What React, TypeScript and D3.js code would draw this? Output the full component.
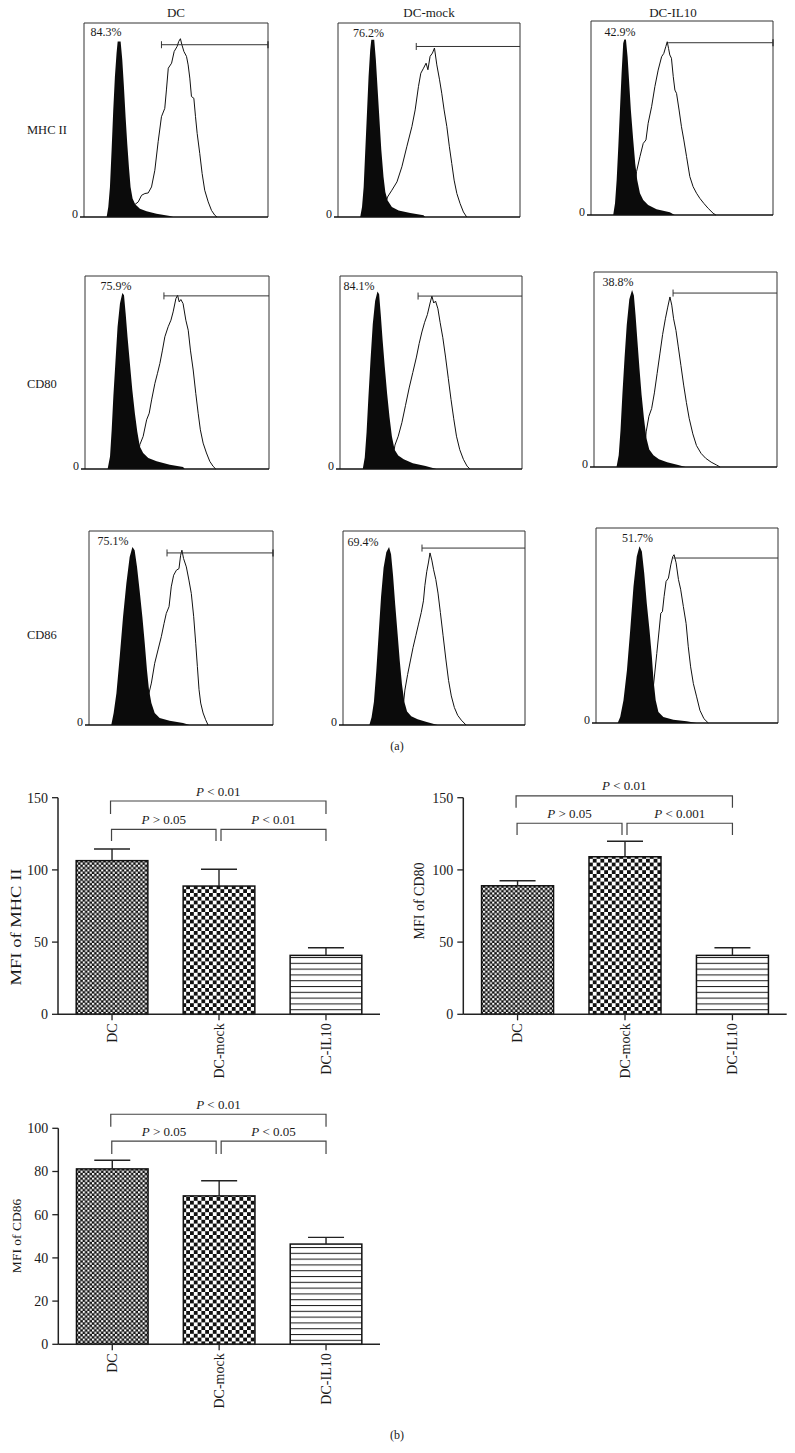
import React from "react";
import * as d3 from "d3";

type Pt = [number, number];

// ---------- (a) flow cytometry histograms ----------
const columnTitles = ["DC", "DC-mock", "DC-IL10"];
const rowMarkers = ["MHC II", "CD80", "CD86"];
const gatePercents = [
  ["84.3%", "76.2%", "42.9%"],
  ["75.9%", "84.1%", "38.8%"],
  ["75.1%", "69.4%", "51.7%"],
];
// channel (0-100 across the plot) , count (0-100 of plot height)
const mhcDcFilled: Pt[] = [[12.3,0],[13.2,5.2],[14.1,15.5],[15,34.5],[15.9,55.2],[16.8,72.4],[17.7,84.5],[18.3,90.5],[19.9,90.5],[20.8,81],[21.7,67.2],[22.6,51.7],[23.5,37.9],[24.4,25.9],[25.3,15.5],[26.4,9.5],[27.8,6.6],[30.4,4.3],[34,2.9],[39.4,1.7],[46.7,0.5],[48.5,0]];
const mhcDcOpen: Pt[] = [[23.1,0],[27.1,6],[29.5,7.8],[31.3,11.2],[33.1,12.1],[34.9,12.4],[36.7,15.5],[38.5,24.1],[40.3,38.8],[42.1,51.7],[43.9,56],[44.8,65.5],[45.8,76.7],[47.6,79.3],[49,85.3],[50.6,87.9],[51.5,90.5],[52.4,91.9],[53.2,88.8],[54.3,85.3],[55.7,82.8],[56.6,78.4],[57.5,71.6],[58.4,62.1],[59.7,61.2],[60.6,51.7],[61.5,43.1],[62.9,32.8],[64.2,22.4],[65.6,13.8],[67.5,7.8],[69.3,3.4],[71.1,0.9],[72.3,0]];
const mhcMockFilled: Pt[] = [[12.2,0],[13.2,5.2],[14.1,15.5],[15,34.5],[15.9,53.4],[16.8,72.4],[17.7,86.2],[18.3,91.4],[19.9,91.4],[20.8,81],[21.8,65.5],[22.9,48.3],[23.8,34.5],[25,20.7],[26,12.9],[27.2,8.6],[29.6,5.2],[33.3,3.4],[39.7,2.1],[47,0.9],[47.9,0]];
const mhcMockOpen: Pt[] = [[24.1,0],[27.2,10.3],[29.6,13.8],[32.4,18.1],[35.1,25.9],[37.8,36.2],[40.6,46.6],[42.4,55.2],[44.2,67.2],[45.5,74.1],[47,76.7],[48.4,79.3],[49.4,75.9],[50.6,82.8],[51.9,84.5],[53,87.1],[54.3,78.4],[55.8,70.7],[57,63.8],[58.3,55.2],[59.8,46.6],[61.2,36.2],[62.5,27.6],[63.8,19],[65.3,12.1],[67.1,6.9],[68.9,2.6],[70.7,0]];
const mhcIl10Filled: Pt[] = [[12.2,0],[13.2,6],[14.1,18],[15,35.2],[15.9,54.1],[16.8,73],[17.7,88.5],[18.3,90.5],[19.2,90.5],[20.1,81.6],[21,67.9],[21.9,54.1],[23.2,38.7],[24.3,26.6],[25.4,18],[26.9,11.2],[28.7,7.7],[31.4,5.2],[36,2.9],[43.3,1.4],[46,0]];
const mhcIl10Open: Pt[] = [[22.3,0],[25,22.3],[26.9,30.1],[28.7,36.9],[30.2,38.7],[31.4,47.3],[33.3,55.8],[35.1,66.2],[36.9,74.7],[38.8,81.6],[40,83.3],[41.1,86.8],[41.9,89.3],[42.6,85.9],[43.3,82.5],[44.2,80.8],[45.2,71.3],[46.1,64.4],[47,62.7],[48.4,54.1],[49.7,45.5],[51,38.7],[52.5,30.1],[54.3,19.8],[56.1,14.6],[58,11.2],[59.8,8.6],[62,6],[64.4,3.4],[67.1,0.9],[68.6,0]];
const cd80DcFilled: Pt[] = [[12.3,0],[13.6,6.5],[14.5,20.3],[15.4,37.5],[16.6,56.5],[17.7,73.7],[19,85.7],[20.3,91.2],[21.2,90],[22.1,80.6],[23.1,68.5],[24.4,54.7],[25.7,41],[27.1,28.9],[28.4,19.4],[29.8,11.7],[31.6,8.3],[34.4,5.7],[38.9,4],[46.1,2.2],[53.3,1],[54.2,0]];
const cd80DcOpen: Pt[] = [[28,0],[29.8,12.6],[31.6,16.9],[33.5,25.5],[34.9,28.9],[36.2,35.8],[38,44.4],[39.4,49.6],[40.7,54.7],[42.1,61.6],[43.4,68.5],[45.2,73.7],[46.7,77.1],[47.9,81.4],[49.4,88.3],[50.3,90],[51.2,86.6],[52.1,87.8],[53.3,85.7],[54.8,77.1],[56.1,71.9],[57.3,61.6],[58.8,51.3],[60.2,39.2],[61.5,28.9],[62.7,20.3],[64.2,13.4],[66,8.3],[67.8,4],[69.6,1.4],[71.1,0]];
const cd80MockFilled: Pt[] = [[12.5,0],[13.6,6],[14.6,19],[15.6,37],[16.8,57],[18,75],[19.3,87],[20.6,92],[21.5,90.5],[22.4,80],[23.4,67],[24.6,53],[25.9,39],[27.2,27],[28.5,17],[30,10],[32,7],[35,5],[40,3],[47,1.5],[53,0]];
const cd80MockOpen: Pt[] = [[28,0],[30.2,12.4],[32,17],[34,24],[36,33],[38,42],[40,50],[42,58],[43.5,65],[45,71],[46.5,76],[48,80],[49.5,86],[50.5,89.6],[51.5,86],[52.5,87],[53.8,83],[55,76],[56.5,68],[58,58],[59.5,47],[61,36],[62.5,26],[64,17],[65.8,10],[67.8,5],[69.8,1.5],[71.4,0]];
const cd80Il10Filled: Pt[] = [[12.3,0],[13.5,6],[14.5,19],[15.5,37],[16.7,56],[17.9,73],[19.3,86],[20.8,90.8],[21.8,88],[22.7,78],[23.7,65],[24.8,51],[26,37],[27.3,25],[28.6,15],[30.2,9],[32.5,6],[35.5,4],[40,2.5],[46,1],[50,0]];
const cd80Il10Open: Pt[] = [[27,0],[28.5,18],[30,26],[31.5,30],[33,38],[34.5,48],[36,58],[37.5,68],[39,76],[40.3,82],[41.5,87.2],[42.5,83],[43.5,76],[44.8,70],[46,62],[47.5,52],[49,42],[50.5,33],[52,25],[54,17],[56,11],[58.5,7],[61,4.5],[64,2.5],[67,1],[68.9,0]];
const cd86DcFilled: Pt[] = [[12.1,0],[13.4,6.2],[14.9,16.4],[16.7,35.3],[18.5,55.8],[20.3,72.9],[22.1,86.6],[23.6,91.8],[24.8,90.1],[26.1,81.5],[27.5,69.5],[29,55.8],[30.3,42.1],[31.5,28.4],[32.6,18.2],[33.9,11.3],[35.7,6.2],[38.4,3.6],[43.8,2.2],[51.1,1],[54.7,0]];
const cd86DcOpen: Pt[] = [[30,0],[32.6,16.4],[33.9,21.6],[35.7,31.8],[37.5,38.7],[39.3,45.5],[40.8,52.4],[42,57.5],[43.5,61],[44.7,71.2],[46,77.2],[47.5,79.8],[48.9,80.6],[49.8,87.5],[50.5,90.1],[51.4,85.8],[52.9,81.5],[54.3,74.7],[55.6,67.8],[56.9,55.8],[58,42.1],[58.9,30.1],[59.8,18.2],[60.7,11.3],[62,6.2],[63.4,2.7],[64.7,0]];
const cd86MockFilled: Pt[] = [[14.5,0],[15.7,4],[17,12],[18.3,28],[19.6,47],[20.9,66],[22.3,81],[23.8,89],[25.3,91.8],[26.4,88],[27.5,77],[28.7,62],[30,47],[31.2,33],[32.4,21],[33.7,12],[35.2,7],[37.5,4.5],[41,3],[46,1.5],[52,0]];
const cd86MockOpen: Pt[] = [[32,0],[34,18],[35.5,26],[37,33],[38.5,40],[40,46],[41.5,52],[43,58],[44.2,64],[45,72],[46,79],[47,84],[47.8,88.7],[48.8,85],[49.8,80],[51,75],[52.2,68],[53.5,58],[55,46],[56.5,34],[58,23],[59.5,15],[61.2,9],[63,5],[65,2.5],[67.6,0]];
const cd86Il10Filled: Pt[] = [[11.9,0],[13.3,3.1],[15.1,11.7],[17,27.1],[18.8,47.7],[20.6,70],[22.4,85.4],[23.9,90.6],[25.2,88],[26.5,76.8],[27.9,61.4],[29.4,47.7],[30.7,34],[31.6,22],[32.8,11.7],[34.3,5.7],[37,3.1],[42.5,1.7],[49.8,0.9],[55.3,0]];
const cd86Il10Open: Pt[] = [[29,0],[31.6,19.4],[33.4,35.7],[34.7,47.7],[35.6,56.3],[36.5,57.1],[37.4,64.8],[38.5,72.6],[39.8,74.3],[41.1,81.1],[42.2,85.4],[42.9,86.3],[44,82.2],[45.3,73.6],[46.5,68.6],[48,59.7],[49.5,51.1],[50.7,39.1],[52,28.8],[53.5,20.2],[55.3,13.4],[57.1,6.5],[59.3,2.2],[61.7,0]];

const filledCurves = [
  [mhcDcFilled, mhcMockFilled, mhcIl10Filled],
  [cd80DcFilled, cd80MockFilled, cd80Il10Filled],
  [cd86DcFilled, cd86MockFilled, cd86Il10Filled],
];
const openCurves = [
  [mhcDcOpen, mhcMockOpen, mhcIl10Open],
  [cd80DcOpen, cd80MockOpen, cd80Il10Open],
  [cd86DcOpen, cd86MockOpen, cd86Il10Open],
];
const gateStart = [[42.1, 43, 42.4], [42.9, 42.9, 43.2], [42.4, 43.4, 42.5]];
const gateLevel = [[88.8, 87.9, 88.8], [89.7, 89.6, 89.2], [88.7, 91.2, 84.6]];

// ---------- (b) MFI bar charts ----------
const groups = ["DC", "DC-mock", "DC-IL10"];
const mhcMfi = [106.4, 88.8, 40.8];
const mhcSem = [8.1, 11.6, 5.3];
const cd80Mfi = [89.0, 109.1, 40.8];
const cd80Sem = [3.5, 10.7, 5.3];
const cd86Mfi = [81.2, 68.7, 46.4];
const cd86Sem = [4.0, 7.0, 3.1];
const ticks150 = [0, 50, 100, 150];
const ticks100 = [0, 20, 40, 60, 80, 100];
const mhcPvals = ["< 0.01", "> 0.05", "< 0.01"];
const cd80Pvals = ["< 0.01", "> 0.05", "< 0.001"];
const cd86Pvals = ["< 0.01", "> 0.05", "< 0.05"];

// ---------- layout ----------
const FONT = "'Liberation Serif', 'DejaVu Serif', serif";
const INK = "#1a1a1a";
const panelBoxes = [
  [{ x: 84, y: 23, w: 184, h: 194 }, { x: 338, y: 23, w: 182, h: 194 }, { x: 591, y: 21, w: 182, h: 194 }],
  [{ x: 85, y: 276, w: 184, h: 193 }, { x: 340, y: 276, w: 182, h: 193 }, { x: 594, y: 272, w: 183, h: 195 }],
  [{ x: 89, y: 531, w: 184, h: 194 }, { x: 343, y: 531, w: 182, h: 194 }, { x: 596, y: 528, w: 182, h: 195 }],
];
const labelPos = [[[12, 93.1], [16.8, 92.8], [15.9, 92.3]], [[16.8, 92.9], [10.5, 92.5], [13.1, 92.8]], [[13, 92.6], [11, 92.3], [22.8, 92.6]]];
const gateTicks = [[[true, true], [true, false], [false, true]], [[true, false], [true, false], [true, false]], [[true, true], [true, false], [false, false]]];
const titleX = [176, 429, 673];
const rowLabelY = [134, 388, 639];

function Histogram({ r, c }: { r: number; c: number }) {
  const b = panelBoxes[r][c];
  const x = d3.scaleLinear().domain([0, 100]).range([b.x, b.x + b.w]);
  const y = d3.scaleLinear().domain([0, 100]).range([b.y + b.h, b.y]);
  const line = d3.line<Pt>().x((d) => x(d[0])).y((d) => y(d[1]));
  const area = d3.area<Pt>().x((d) => x(d[0])).y0(y(0)).y1((d) => y(d[1]));
  const gy = y(gateLevel[r][c]);
  const gx0 = x(gateStart[r][c]);
  const gx1 = x(100);
  const [lt, rt] = gateTicks[r][c];
  const [lc, lh] = labelPos[r][c];
  return (
    <g>
      <path d={`M${b.x},${b.y + b.h}V${b.y}H${b.x + b.w}V${b.y + b.h}`} fill="none" stroke="#333" strokeWidth={1} />
      <path d={line(openCurves[r][c]) || ""} fill="none" stroke="#111" strokeWidth={1} />
      <path d={area(filledCurves[r][c]) || ""} fill="#0b0b0b" />
      <line x1={b.x - 4} x2={b.x + b.w} y1={y(0)} y2={y(0)} stroke="#111" strokeWidth={1.4} />
      <text x={b.x - 6} y={y(0) + 1} textAnchor="end" fontSize={12} fill={INK}>0</text>
      <line x1={gx0} x2={gx1} y1={gy} y2={gy} stroke="#333" strokeWidth={1} />
      {lt && <line x1={gx0} x2={gx0} y1={gy - 3.5} y2={gy + 3.5} stroke="#333" strokeWidth={1} />}
      {rt && <line x1={gx1} x2={gx1} y1={gy - 3.5} y2={gy + 3.5} stroke="#333" strokeWidth={1.4} />}
      <text x={x(lc)} y={y(lh)} textAnchor="middle" fontSize={12} fill={INK}>{gatePercents[r][c]}</text>
    </g>
  );
}

type ChartSpec = {
  axisX: number; x1: number; y0: number; yTop: number; yMax: number;
  values: number[]; sem: number[]; ticks: number[]; yLabel: string; yLabelX: number; yLabelY: number;
  yLabelSize: number; yLabelLen?: number; pvals: string[]; top: [number, number]; low: [number, number];
};

const charts: ChartSpec[] = [
  { axisX: 58, x1: 380, y0: 1014.3, yTop: 797.7, yMax: 150, values: mhcMfi, sem: mhcSem, ticks: ticks150, yLabel: "MFI of MHC II", yLabelX: 16, yLabelY: 927, yLabelSize: 14.5, yLabelLen: 117, pvals: mhcPvals, top: [147.7, 138.7], low: [128.1, 120] },
  { axisX: 463.3, x1: 786.7, y0: 1014.3, yTop: 797.7, yMax: 150, values: cd80Mfi, sem: cd80Sem, ticks: ticks150, yLabel: "MFI of CD80", yLabelX: 419, yLabelY: 901, yLabelSize: 14, pvals: cd80Pvals, top: [151.2, 143.1], low: [132.3, 124.2] },
  { axisX: 58.3, x1: 380, y0: 1344.3, yTop: 1128.3, yMax: 100, values: cd86Mfi, sem: cd86Sem, ticks: ticks100, yLabel: "MFI of CD86", yLabelX: 16, yLabelY: 1236, yLabelSize: 13.5, pvals: cd86Pvals, top: [106.5, 100.7], low: [94.1, 88.1] },
];
const patternIds = ["fineChecker", "coarseChecker", "hLines"];

function BarChart({ s }: { s: ChartSpec }) {
  const x = d3.scaleBand<string>().domain(groups).range([s.axisX, s.x1]).paddingInner(0.33).paddingOuter(0.17);
  const y = d3.scaleLinear().domain([0, s.yMax]).range([s.y0, s.yTop]);
  const cx = (g: string) => (x(g) as number) + x.bandwidth() / 2;
  const bracket = (lv: [number, number], p: string, x0: number, x1: number, key: string) => {
    const yb = y(lv[0]);
    const yl = y(lv[1]);
    return (
      <g key={key}>
        <path d={`M${x0},${yl}V${yb}H${x1}V${yl}`} fill="none" stroke="#444" strokeWidth={1.2} />
        <text x={(x0 + x1) / 2} y={yb - 5.5} textAnchor="middle" fontSize={13} fill={INK}>
          <tspan fontStyle="italic">P</tspan>{" " + p}
        </text>
      </g>
    );
  };
  const c0 = cx(groups[0]), c1 = cx(groups[1]), c2 = cx(groups[2]);
  return (
    <g>
      {groups.map((g, i) => (
        <g key={g}>
          <rect x={x(g)} y={y(s.values[i])} width={x.bandwidth()} height={s.y0 - y(s.values[i])} fill={`url(#${patternIds[i]})`} stroke="#111" strokeWidth={1.5} />
          <line x1={cx(g)} x2={cx(g)} y1={y(s.values[i])} y2={y(s.values[i] + s.sem[i])} stroke="#222" strokeWidth={1.4} />
          <line x1={cx(g) - 18} x2={cx(g) + 18} y1={y(s.values[i] + s.sem[i])} y2={y(s.values[i] + s.sem[i])} stroke="#222" strokeWidth={1.4} />
          <line x1={cx(g)} x2={cx(g)} y1={s.y0} y2={s.y0 + 6} stroke="#222" strokeWidth={1.3} />
          <text transform={`translate(${cx(g)},${s.y0 + 9}) rotate(-90)`} textAnchor="end" dy="0.35em" fontSize={14} fill={INK}>{g}</text>
        </g>
      ))}
      <line x1={s.axisX} x2={s.axisX} y1={s.y0} y2={y(s.yMax)} stroke="#222" strokeWidth={1.5} />
      <line x1={s.axisX} x2={s.x1} y1={s.y0} y2={s.y0} stroke="#222" strokeWidth={1.5} />
      {s.ticks.map((t) => (
        <g key={t}>
          <line x1={s.axisX - 6} x2={s.axisX} y1={y(t)} y2={y(t)} stroke="#222" strokeWidth={1.3} />
          <text x={s.axisX - 10} y={y(t)} dy="0.35em" textAnchor="end" fontSize={14} fill={INK}>{t}</text>
        </g>
      ))}
      <text transform={`translate(${s.yLabelX},${s.yLabelY}) rotate(-90)`} textAnchor="middle" dy="0.35em" fontSize={s.yLabelSize} fill={INK}
        {...(s.yLabelLen ? { textLength: s.yLabelLen, lengthAdjust: "spacingAndGlyphs" } : {})}>{s.yLabel}</text>
      {bracket(s.top, s.pvals[0], c0 - 1.5, c2, "t")}
      {bracket(s.low, s.pvals[1], c0 - 0.5, c1 - 3, "l")}
      {bracket(s.low, s.pvals[2], c1 + 2, c2, "r")}
    </g>
  );
}

export default function App() {
  return (
    <svg width={795} height={1453} style={{ position: "absolute", left: 0, top: 0, background: "#fff" }} fontFamily={FONT}>
      <defs>
        <pattern id="fineChecker" width={4.6} height={4.6} patternUnits="userSpaceOnUse">
          <rect width={4.6} height={4.6} fill="#111" />
          <rect x={0} y={0} width={2.1} height={2.1} fill="#fff" />
          <rect x={2.3} y={2.3} width={2.1} height={2.1} fill="#fff" />
        </pattern>
        <pattern id="coarseChecker" width={7.6} height={7.6} patternUnits="userSpaceOnUse">
          <rect width={7.6} height={7.6} fill="#fff" />
          <rect x={0} y={0} width={3.8} height={3.8} fill="#111" />
          <rect x={3.8} y={3.8} width={3.8} height={3.8} fill="#111" />
        </pattern>
        <pattern id="hLines" width={10} height={5.8} patternUnits="userSpaceOnUse">
          <rect width={10} height={5.8} fill="#fff" />
          <line x1={0} x2={10} y1={0.5} y2={0.5} stroke="#222" strokeWidth={1.1} />
        </pattern>
      </defs>
      <rect width={795} height={1453} fill="#fff" />
      {columnTitles.map((t, i) => (
        <text key={t} x={titleX[i]} y={17} textAnchor="middle" fontSize={13} fill={INK}>{t}</text>
      ))}
      {rowMarkers.map((m, i) => (
        <text key={m} x={27} y={rowLabelY[i]} fontSize={12.5} fill={INK}>{m}</text>
      ))}
      {[0, 1, 2].map((r) => [0, 1, 2].map((c) => <Histogram key={`${r}-${c}`} r={r} c={c} />))}
      <text x={397} y={750} textAnchor="middle" fontSize={12} fill={INK}>(a)</text>
      {charts.map((s, i) => <BarChart key={i} s={s} />)}
      <text x={397} y={1439} textAnchor="middle" fontSize={12} fill={INK}>(b)</text>
    </svg>
  );
}
